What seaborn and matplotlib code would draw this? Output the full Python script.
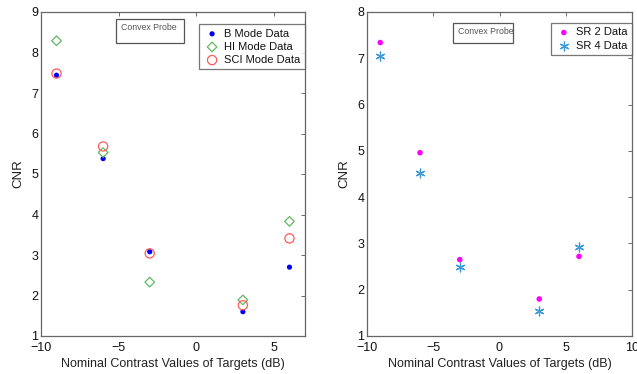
import matplotlib
matplotlib.use("Agg")
import matplotlib.pyplot as plt
from matplotlib.patches import Rectangle
import pandas as pd
import seaborn as sns

# Target nominal contrast (dB)
contrast = [-9, -6, -3, 3, 6]

# CNR per imaging mode
b_mode = [7.44, 5.38, 3.08, 1.60, 2.70]
hi_mode = [8.29, 5.53, 2.33, 1.89, 3.83]
sci_mode = [7.48, 5.68, 3.04, 1.76, 3.41]

# CNR per SR factor
sr2 = [7.34, 4.96, 2.65, 1.80, 2.72]
sr4 = [7.05, 4.53, 2.50, 1.53, 2.93]

sns.set_theme(style="white")
plt.rcParams["font.family"] = ["Liberation Sans", "DejaVu Sans"]

fig = plt.figure(figsize=(6.37, 3.74), dpi=100)
W, H = 637, 374
ax1 = fig.add_axes([41 / W, 1 - 336 / H, 264 / W, 324 / H])
ax2 = fig.add_axes([367 / W, 1 - 336 / H, 265 / W, 324 / H])

df1 = pd.DataFrame({"x": contrast * 3,
                    "y": b_mode + hi_mode + sci_mode,
                    "mode": ["B Mode Data"] * 5 + ["HI Mode Data"] * 5 + ["SCI Mode Data"] * 5})
df2 = pd.DataFrame({"x": contrast * 2,
                    "y": sr2 + sr4,
                    "mode": ["SR 2 Data"] * 5 + ["SR 4 Data"] * 5})

sns.scatterplot(data=df1[df1["mode"] == "B Mode Data"], x="x", y="y", ax=ax1,
                marker="o", s=14, color="#0000ff", edgecolor="none", label="B Mode Data")
sns.scatterplot(data=df1[df1["mode"] == "HI Mode Data"], x="x", y="y", ax=ax1,
                marker="D", s=24, facecolor="none", edgecolor="#62b862", linewidth=0.9,
                label="HI Mode Data")
sns.scatterplot(data=df1[df1["mode"] == "SCI Mode Data"], x="x", y="y", ax=ax1,
                marker="o", s=44, facecolor="none", edgecolor="#ff5a5a", linewidth=0.9,
                label="SCI Mode Data")

sns.scatterplot(data=df2[df2["mode"] == "SR 2 Data"], x="x", y="y", ax=ax2,
                marker="o", s=16, color="#ff00ff", edgecolor="none", label="SR 2 Data")
sns.scatterplot(data=df2[df2["mode"] == "SR 4 Data"], x="x", y="y", ax=ax2,
                marker=(6, 2, 0), s=40, color="#3b9ad8", linewidth=0.9, label="SR 4 Data")

ax1.set_xlim(-10, 7)
ax1.set_ylim(1, 9)
ax1.set_xticks([-10, -5, 0, 5])
ax1.set_yticks(range(1, 10))
ax2.set_xlim(-10, 10)
ax2.set_ylim(1, 8)
ax2.set_xticks([-10, -5, 0, 5, 10])
ax2.set_yticks(range(1, 9))

for ax in (ax1, ax2):
    ax.set_xlabel("Nominal Contrast Values of Targets (dB)", fontsize=9, color="#222222",
                  labelpad=3)
    ax.set_ylabel("CNR", fontsize=9.5, color="#222222", labelpad=5)
    ax.set_xticklabels(["\u2212" + str(-t) if t < 0 else str(t) for t in ax.get_xticks()])
    ax.tick_params(axis="both", direction="in", length=3, width=0.6, color="#555555",
                   labelsize=9, labelcolor="#111111", top=True, right=True, pad=2)
    ax.tick_params(axis="x", pad=4)
    for sp in ax.spines.values():
        sp.set_color("#666666")
        sp.set_linewidth(0.9)

leg1 = ax1.legend(loc="upper right", bbox_to_anchor=(1.0, 0.962), fontsize=8,
                  frameon=True, fancybox=False, edgecolor="#555555", borderpad=0.4,
                  handletextpad=0.3, labelspacing=0.28, handlelength=1.6, borderaxespad=0)
leg2 = ax2.legend(loc="upper right", bbox_to_anchor=(1.0, 0.966), fontsize=8,
                  frameon=True, fancybox=False, edgecolor="#555555", borderpad=0.4,
                  handletextpad=0.3, labelspacing=0.28, handlelength=1.6, borderaxespad=0)
for leg in (leg1, leg2):
    leg.get_frame().set_linewidth(0.9)
    for t in leg.get_texts():
        t.set_color("#111111")

# annotation boxes
for ax, (x0, x1, y0, y1) in ((ax1, (0.284, 0.542, 0.904, 0.978)),
                             (ax2, (0.325, 0.551, 0.904, 0.966))):
    ax.add_patch(Rectangle((x0, y0), x1 - x0, y1 - y0, transform=ax.transAxes,
                           facecolor="white", edgecolor="#555555", linewidth=0.9, zorder=3))
    ax.text(x0 + 0.02, y1 - 0.012, "Convex Probe", transform=ax.transAxes,
            fontsize=6.3, color="#555555", ha="left", va="top", zorder=4)

fig.savefig("out.png", dpi=100)
